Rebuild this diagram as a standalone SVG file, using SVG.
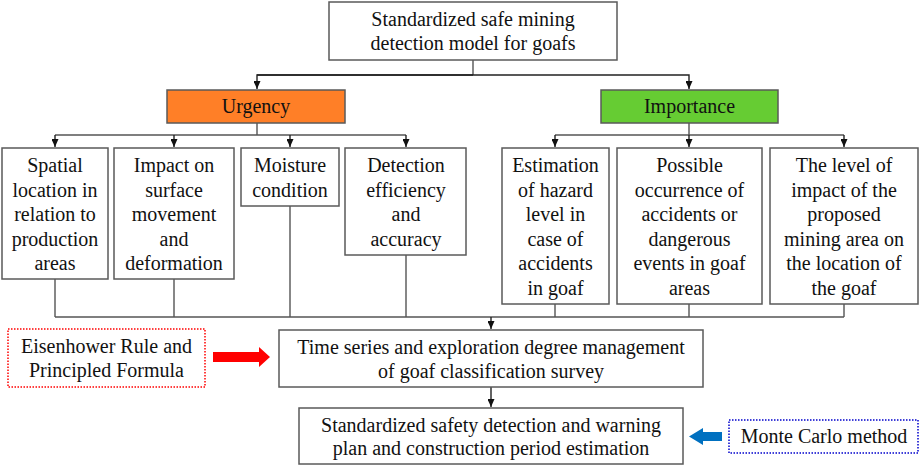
<svg xmlns="http://www.w3.org/2000/svg" width="920" height="467" viewBox="0 0 920 467">
<defs>
<marker id="ah" markerWidth="8" markerHeight="7" refX="8" refY="3.5" orient="auto" markerUnits="userSpaceOnUse">
<path d="M0,0 L8,3.5 L0,7 Z" fill="#111"/>
</marker>
<style>
.box{fill:#fff;stroke:#5a5a5a;stroke-width:1.5}
.t{font-family:"Liberation Serif","Times New Roman",serif;font-size:20px;fill:#111;text-anchor:middle}
.ln{fill:none;stroke:#555;stroke-width:1.4}
.ar{fill:none;stroke:#222;stroke-width:1.4;marker-end:url(#ah)}
</style>
</defs>
<rect width="920" height="467" fill="#fff"/>

<g id="connectors">
<path class="ln" d="M473,60 V75"/>
<path class="ar" d="M257,75 H689 V89"/>
<path class="ar" d="M473,75 H257 V89"/>
<path class="ln" d="M257,123 V135 M55,135 H406"/>
<path class="ar" d="M55,135 V147"/>
<path class="ar" d="M174,135 V147"/>
<path class="ar" d="M290,135 V147"/>
<path class="ar" d="M406,135 V147"/>
<path class="ln" d="M689,123 V135 M555,135 H844"/>
<path class="ar" d="M555,135 V147"/>
<path class="ar" d="M689,135 V147"/>
<path class="ar" d="M844,135 V147"/>
<path class="ln" d="M55,279 V317 M174,279 V317 M290,206 V317 M406,255 V317 M555,304 V317 M689,304 V317 M844,304 V317 M55,317 H844"/>
<path class="ar" d="M491,317 V329"/>
<path class="ar" d="M491,387 V407"/>
<path d="M213,352 H259 V347 L270,357 L259,367 V362 H213 Z" fill="#ff0000"/>
<path d="M722,432 H703 V428 L689,436.5 L703,445 V441 H722 Z" fill="#0070c0"/>
</g>

<g id="top">
<rect class="box" x="329" y="2" width="288" height="58"/>
<text class="t" x="473" y="25.5">Standardized safe mining</text>
<text class="t" x="473" y="49.5">detection model for goafs</text>
</g>

<g id="urgency">
<rect x="167" y="90" width="178" height="33" fill="#ff7f27" stroke="#5a5a5a" stroke-width="1.5"/>
<text class="t" x="256" y="113">Urgency</text>
</g>

<g id="importance">
<rect x="601" y="90" width="177" height="33" fill="#66cc33" stroke="#5a5a5a" stroke-width="1.5"/>
<text class="t" x="689.5" y="113">Importance</text>
</g>

<g id="n1">
<rect class="box" x="2" y="148" width="106" height="131"/>
<text class="t" x="55" y="172">Spatial</text>
<text class="t" x="55" y="196.5">location in</text>
<text class="t" x="55" y="221">relation to</text>
<text class="t" x="55" y="245.5">production</text>
<text class="t" x="55" y="270">areas</text>
</g>

<g id="n2">
<rect class="box" x="114" y="148" width="120" height="131"/>
<text class="t" x="174" y="172">Impact on</text>
<text class="t" x="174" y="196.5">surface</text>
<text class="t" x="174" y="221">movement</text>
<text class="t" x="174" y="245.5">and</text>
<text class="t" x="174" y="270">deformation</text>
</g>

<g id="n3">
<rect class="box" x="241" y="148" width="98" height="58"/>
<text class="t" x="290" y="172">Moisture</text>
<text class="t" x="290" y="196.5">condition</text>
</g>

<g id="n4">
<rect class="box" x="345" y="148" width="121" height="107"/>
<text class="t" x="406" y="172">Detection</text>
<text class="t" x="406" y="196.5">efficiency</text>
<text class="t" x="406" y="221">and</text>
<text class="t" x="406" y="245.5">accuracy</text>
</g>

<g id="n5">
<rect class="box" x="502" y="148" width="107" height="156"/>
<text class="t" x="555.5" y="172">Estimation</text>
<text class="t" x="555.5" y="196.5">of hazard</text>
<text class="t" x="555.5" y="221">level in</text>
<text class="t" x="555.5" y="245.5">case of</text>
<text class="t" x="555.5" y="270">accidents</text>
<text class="t" x="555.5" y="294.5">in goaf</text>
</g>

<g id="n6">
<rect class="box" x="617" y="148" width="145" height="156"/>
<text class="t" x="689.5" y="172">Possible</text>
<text class="t" x="689.5" y="196.5">occurrence of</text>
<text class="t" x="689.5" y="221">accidents or</text>
<text class="t" x="689.5" y="245.5">dangerous</text>
<text class="t" x="689.5" y="270">events in goaf</text>
<text class="t" x="689.5" y="294.5">areas</text>
</g>

<g id="n7">
<rect class="box" x="770" y="148" width="148" height="156"/>
<text class="t" x="844" y="172">The level of</text>
<text class="t" x="844" y="196.5">impact of the</text>
<text class="t" x="844" y="221">proposed</text>
<text class="t" x="844" y="245.5">mining area on</text>
<text class="t" x="844" y="270">the location of</text>
<text class="t" x="844" y="294.5">the goaf</text>
</g>

<g id="eisenhower">
<rect x="8" y="329" width="197" height="58" fill="#fff" stroke="#ff0000" stroke-width="1.5" stroke-dasharray="1.5,1.5"/>
<text class="t" x="106.5" y="352.5">Eisenhower Rule and</text>
<text class="t" x="106.5" y="377">Principled Formula</text>
</g>

<g id="timeseries">
<rect class="box" x="279" y="330" width="424" height="57"/>
<text class="t" x="491" y="353.5">Time series and exploration degree management</text>
<text class="t" x="491" y="377.5">of goaf classification survey</text>
</g>

<g id="plan">
<rect class="box" x="299" y="408" width="384" height="56"/>
<text class="t" x="491" y="431.5">Standardized safety detection and warning</text>
<text class="t" x="491" y="455">plan and construction period estimation</text>
</g>

<g id="montecarlo">
<rect x="729" y="420" width="189" height="33" fill="#fff" stroke="#0000cc" stroke-width="1.5" stroke-dasharray="1.5,1.5"/>
<text class="t" x="824" y="443">Monte Carlo method</text>
</g>
</svg>
